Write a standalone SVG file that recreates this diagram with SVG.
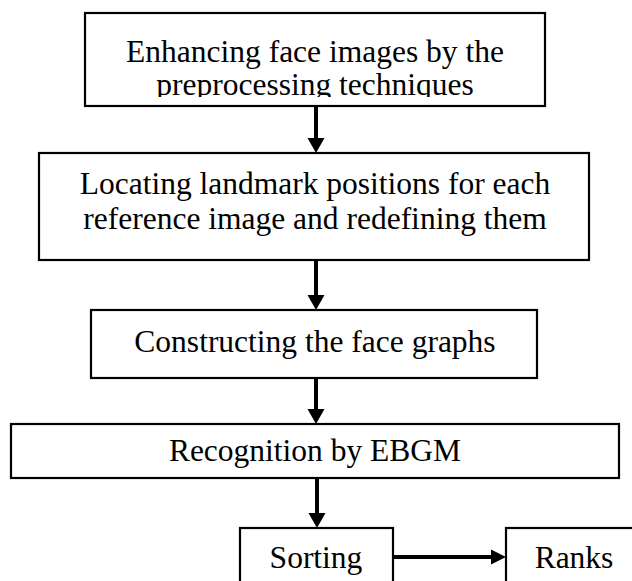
<svg xmlns="http://www.w3.org/2000/svg" width="632" height="581" viewBox="0 0 632 581">
<style>
.box{fill:#fff;stroke:#000;stroke-width:2.2}
.t{font-family:"Liberation Serif","Times New Roman",serif;font-size:31.5px;fill:#000;text-anchor:middle}
.ln{stroke:#000;stroke-width:4;fill:none}
.hd{fill:#000}
</style>
<defs>
<clipPath id="c1"><rect x="85" y="13" width="460" height="84"/></clipPath>
</defs>
<rect width="632" height="581" fill="#fff"/>
<g id="n1">
<rect class="box" x="85" y="13" width="460" height="93"/>
<g clip-path="url(#c1)">
<text class="t" x="315" y="62">Enhancing face images by the</text>
<text class="t" x="315" y="95">preprocessing techniques</text>
</g>
</g>
<g id="n2">
<rect class="box" x="39" y="153" width="550" height="107"/>
<text class="t" x="315" y="194">Locating landmark positions for each</text>
<text class="t" x="315" y="229">reference image and redefining them</text>
</g>
<g id="n3">
<rect class="box" x="91" y="310" width="446" height="68"/>
<text class="t" x="315" y="352">Constructing the face graphs</text>
</g>
<g id="n4">
<rect class="box" x="11" y="424" width="608" height="54"/>
<text class="t" x="315" y="461">Recognition by EBGM</text>
</g>
<g id="n5">
<rect class="box" x="240" y="528" width="153" height="62"/>
<text class="t" x="316" y="568">Sorting</text>
</g>
<g id="n6">
<rect class="box" x="506" y="528" width="140" height="62"/>
<text class="t" x="574" y="568">Ranks</text>
</g>
<g id="connectors">
<line class="ln" x1="316" y1="107" x2="316" y2="139"/>
<polygon class="hd" points="307.5,138 324.5,138 316,153"/>
<line class="ln" x1="316" y1="261" x2="316" y2="296"/>
<polygon class="hd" points="307.5,295 324.5,295 316,310"/>
<line class="ln" x1="316" y1="379" x2="316" y2="410"/>
<polygon class="hd" points="307.5,409 324.5,409 316,424"/>
<line class="ln" x1="317" y1="479" x2="317" y2="514"/>
<polygon class="hd" points="308.5,513 325.5,513 317,528"/>
<line class="ln" x1="394" y1="557" x2="492" y2="557"/>
<polygon class="hd" points="491,549.5 491,564.5 506,557"/>
</g>
</svg>
